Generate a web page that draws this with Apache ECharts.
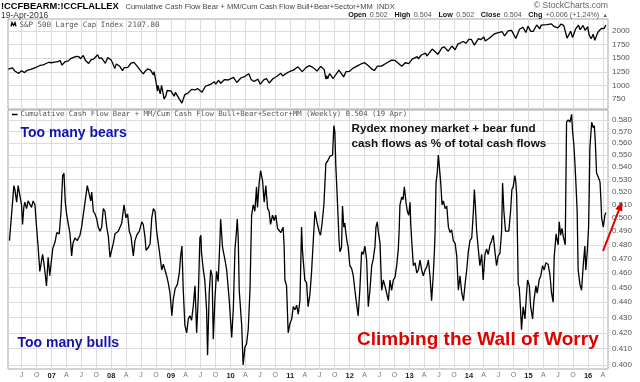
<!DOCTYPE html>
<html><head><meta charset="utf-8">
<script src="https://cdn.jsdelivr.net/npm/echarts@6/dist/echarts.min.js"></script>
<style>html,body{margin:0;padding:0;background:#fff}#c{width:640px;height:382px}</style>
</head><body><div id="c"></div>
<script>
// ---- Rydex cash flow ratio (weekly) ----
const flowDates = [
'2006-04-17','2006-05-14','2006-05-20','2006-05-31','2006-06-09','2006-06-20','2006-06-30','2006-07-06','2006-07-14','2006-07-20','2006-07-31','2006-08-09','2006-08-20','2006-08-30','2006-09-09','2006-09-20','2006-09-30','2006-10-10','2006-10-20','2006-11-06','2006-11-15','2006-11-30','2006-12-10','2006-12-20',
'2007-01-07','2007-01-21','2007-02-01','2007-02-16','2007-02-27','2007-03-09','2007-03-17','2007-03-25','2007-04-03','2007-04-12','2007-04-23','2007-05-03','2007-05-11','2007-05-23','2007-06-06','2007-06-23','2007-07-03','2007-07-13','2007-07-24','2007-08-07','2007-08-19','2007-08-28','2007-09-03','2007-09-13','2007-09-23','2007-10-04','2007-10-13','2007-10-24','2007-11-03','2007-11-13','2007-11-23','2007-12-04','2007-12-14','2007-12-24',
'2008-01-13','2008-01-24','2008-02-13','2008-03-05','2008-03-19','2008-03-31','2008-04-10','2008-04-20','2008-05-01','2008-05-15','2008-05-25','2008-06-05','2008-06-21','2008-07-06','2008-07-15','2008-07-26','2008-08-01','2008-08-15','2008-08-26','2008-09-05','2008-09-15','2008-09-25','2008-10-05','2008-10-15','2008-10-21','2008-11-05','2008-11-15','2008-11-25','2008-12-05','2008-12-15','2008-12-26',
'2009-01-06','2009-01-15','2009-01-26','2009-02-09','2009-02-21','2009-03-01','2009-03-09','2009-03-17','2009-03-27','2009-04-07','2009-04-17','2009-04-27','2009-05-07','2009-05-17','2009-05-28','2009-06-07','2009-06-17','2009-06-27','2009-07-03','2009-07-07','2009-07-17','2009-07-27','2009-08-07','2009-08-13','2009-08-23','2009-09-01','2009-09-10','2009-09-17','2009-09-27','2009-10-07','2009-10-17','2009-10-28','2009-11-01','2009-11-13','2009-11-28','2009-12-08','2009-12-24',
'2010-01-08','2010-01-18','2010-01-28','2010-02-05','2010-02-11','2010-02-17','2010-02-23','2010-03-10','2010-03-19','2010-03-30','2010-04-09','2010-04-19','2010-04-30','2010-05-06','2010-05-10','2010-05-20','2010-05-30','2010-06-09','2010-06-15','2010-06-25','2010-07-04','2010-07-16','2010-07-26','2010-08-05','2010-08-16','2010-08-25','2010-09-03','2010-09-15','2010-09-25','2010-10-05','2010-10-16','2010-10-26','2010-11-05','2010-11-13','2010-11-19','2010-11-25','2010-11-30','2010-12-10','2010-12-20','2010-12-31',
'2011-01-11','2011-01-20','2011-01-31','2011-02-10','2011-02-20','2011-03-02','2011-03-06','2011-03-12','2011-03-18','2011-04-01','2011-04-12','2011-04-21','2011-05-02','2011-05-12','2011-05-22','2011-06-02','2011-06-14','2011-06-27','2011-07-06','2011-07-15','2011-07-27','2011-08-08','2011-08-19','2011-09-02','2011-09-18','2011-09-26','2011-10-02','2011-10-08','2011-10-16','2011-10-22','2011-10-28','2011-11-02','2011-11-12','2011-11-18','2011-11-26','2011-12-02','2011-12-08','2011-12-16','2011-12-22',
'2012-01-02','2012-01-13','2012-01-23','2012-02-02','2012-02-12','2012-02-22','2012-03-03','2012-03-14','2012-03-24','2012-04-03','2012-04-14','2012-04-24','2012-05-04','2012-05-15','2012-05-25','2012-06-04','2012-06-10','2012-06-18','2012-06-24','2012-07-05','2012-07-15','2012-07-25','2012-08-04','2012-08-15','2012-08-25','2012-09-04','2012-09-14','2012-09-24','2012-10-05','2012-10-15','2012-10-25','2012-10-30','2012-11-04','2012-11-15','2012-11-23','2012-12-01','2012-12-11','2012-12-19','2012-12-28',
'2013-01-05','2013-01-09','2013-01-15','2013-01-25','2013-02-05','2013-02-15','2013-02-25','2013-03-07','2013-03-17','2013-03-27','2013-04-07','2013-04-17','2013-04-27','2013-05-07','2013-05-17','2013-05-27','2013-06-03','2013-06-07','2013-06-13','2013-06-21','2013-06-27','2013-07-03','2013-07-12','2013-07-20','2013-07-28','2013-08-08','2013-08-18','2013-08-28','2013-09-07','2013-09-17','2013-09-27','2013-10-08','2013-10-18','2013-10-28','2013-11-07','2013-11-18','2013-11-28','2013-12-08','2013-12-18','2013-12-28',
'2014-01-07','2014-01-18','2014-01-28','2014-02-03','2014-02-09','2014-02-17','2014-02-27','2014-03-09','2014-03-20','2014-03-29','2014-04-09','2014-04-19','2014-04-29','2014-05-10','2014-05-20','2014-05-30','2014-06-09','2014-06-19','2014-06-29','2014-07-10','2014-07-20','2014-07-26','2014-08-03','2014-08-13','2014-08-23','2014-09-02','2014-09-13','2014-09-21','2014-09-29','2014-10-09','2014-10-15','2014-10-20','2014-10-23','2014-10-30','2014-11-05','2014-11-13','2014-11-19','2014-11-29','2014-12-10','2014-12-20','2014-12-26',
'2015-01-06','2015-01-14','2015-01-26','2015-02-03','2015-02-15','2015-02-23','2015-03-07','2015-03-17','2015-03-28','2015-04-07','2015-04-17','2015-05-01','2015-05-12','2015-05-22','2015-06-01','2015-06-07','2015-06-13','2015-06-19','2015-06-26','2015-07-02','2015-07-08','2015-07-17','2015-07-25','2015-08-02','2015-08-08','2015-08-14','2015-08-22','2015-09-01','2015-09-12','2015-09-22','2015-09-28','2015-10-06','2015-10-12','2015-10-18','2015-10-26','2015-11-01','2015-11-12','2015-11-22','2015-12-02','2015-12-12','2015-12-18','2015-12-27',
'2016-01-04','2016-01-08','2016-01-12','2016-01-23','2016-02-02','2016-02-08','2016-02-14','2016-02-22','2016-03-03','2016-03-14','2016-03-20','2016-03-24','2016-04-03','2016-04-13','2016-04-19'
];
const flowValues = [
.483,.525,.522,.512,.525,.526,.510,.495,.508,.512,.507,.513,.514,.508,.513,.510,.493,.478,.461,.473,.466,.451,.471,.458,
.477,.482,.489,.488,.505,.533,.535,.512,.502,.503,.488,.472,.481,.485,.483,.487,.493,.502,.512,.525,.524,.513,.520,.505,.503,.499,.493,.490,.493,.507,.505,.493,.486,.471,
.481,.488,.490,.496,.510,.500,.503,.490,.486,.472,.483,.487,.490,.497,.495,.485,.476,.478,.481,.500,.507,.505,.490,.481,.476,.462,.466,.465,.458,.453,.446,
.431,.442,.449,.452,.460,.472,.479,.448,.425,.420,.429,.431,.428,.437,.451,.420,.443,.485,.487,.474,.463,.455,.435,.406,.446,.462,.458,.416,.442,.461,.454,.484,.499,.478,.469,.462,.441,
.417,.436,.477,.488,.499,.485,.448,.425,.400,.411,.413,.422,.448,.480,.502,.510,.505,.524,.508,.527,.537,.529,.512,.525,.507,.505,.495,.502,.498,.502,.492,.493,.489,.489,.493,.480,.455,.451,.420,.426,
.429,.437,.435,.438,.432,.441,.460,.493,.475,.455,.453,.437,.445,.460,.461,.505,.497,.490,.487,.495,.510,.543,.545,.549,.550,.575,.570,.541,.518,.500,.483,.475,.478,.509,.493,.496,.489,.482,.479,
.465,.463,.458,.448,.439,.431,.448,.475,.473,.479,.469,.437,.448,.465,.470,.479,.493,.497,.490,.481,.448,.455,.451,.452,.441,.455,.448,.455,.457,.465,.477,.490,.510,.516,.514,.524,.512,.505,.502,
.512,.496,.483,.465,.467,.460,.462,.469,.462,.458,.462,.464,.469,.458,.441,.458,.475,.488,.527,.536,.550,.541,.527,.510,.513,.507,.509,.493,.489,.491,.483,.481,.472,.448,.458,.446,.441,.452,.462,.475,
.483,.485,.505,.522,.510,.490,.477,.465,.473,.455,.473,.477,.473,.480,.483,.487,.475,.465,.472,.474,.490,.527,.505,.490,.489,.490,.505,.522,.524,.533,.528,.518,.500,.452,.450,.435,.422,.437,.429,.446,.455,
.451,.437,.429,.441,.451,.446,.455,.458,.465,.462,.467,.466,.459,.446,.440,.471,.479,.488,.483,.480,.497,.487,.492,.486,.483,.480,.578,.580,.578,.585,.570,.558,.544,.528,.505,.462,.452,.448,.465,.479,.462,.475,
.493,.520,.556,.578,.573,.575,.562,.535,.532,.528,.513,.500,.493,.502,.504
];

// ---- S&P 500 ----
const spxDates = [
'2006-04-10','2006-05-05','2006-05-19','2006-06-13','2006-06-30','2006-07-18','2006-08-04','2006-08-25','2006-09-15','2006-09-29','2006-10-20','2006-11-10','2006-11-24','2006-12-15','2006-12-29',
'2007-01-19','2007-02-09','2007-02-22','2007-03-05','2007-03-23','2007-04-13','2007-04-27','2007-05-18','2007-06-01','2007-06-15','2007-06-26','2007-07-13','2007-07-27','2007-08-15','2007-08-31','2007-09-14','2007-09-28','2007-10-09','2007-10-19','2007-11-02','2007-11-26','2007-12-10','2007-12-31',
'2008-01-11','2008-01-22','2008-02-01','2008-02-22','2008-03-10','2008-03-21','2008-04-11','2008-05-02','2008-05-19','2008-06-06','2008-06-27','2008-07-15','2008-07-25','2008-08-11','2008-08-29','2008-09-15','2008-09-19','2008-09-29','2008-10-10','2008-10-13','2008-10-27','2008-11-04','2008-11-20','2008-12-01','2008-12-08','2008-12-31',
'2009-01-06','2009-01-20','2009-01-28','2009-02-09','2009-02-23','2009-03-09','2009-03-26','2009-04-13','2009-05-08','2009-05-29','2009-06-12','2009-07-10','2009-07-31','2009-08-14','2009-08-31','2009-09-22','2009-10-02','2009-10-19','2009-11-02','2009-11-25','2009-12-18',
'2010-01-19','2010-02-08','2010-03-05','2010-03-31','2010-04-23','2010-05-07','2010-05-25','2010-06-18','2010-07-02','2010-07-23','2010-08-09','2010-08-26','2010-09-17','2010-10-15','2010-11-05','2010-11-16','2010-12-15','2010-12-31',
'2011-01-21','2011-02-18','2011-03-16','2011-04-08','2011-04-29','2011-05-20','2011-06-15','2011-07-07','2011-07-29','2011-08-08','2011-08-12','2011-08-19','2011-08-31','2011-09-22','2011-10-03','2011-10-27','2011-11-25','2011-12-09','2011-12-30',
'2012-01-20','2012-02-17','2012-03-16','2012-04-02','2012-04-23','2012-05-18','2012-06-01','2012-06-19','2012-07-13','2012-08-17','2012-09-14','2012-10-05','2012-11-15','2012-12-07','2012-12-28',
'2013-01-18','2013-02-19','2013-02-25','2013-03-15','2013-04-11','2013-04-18','2013-05-21','2013-06-24','2013-07-19','2013-08-02','2013-08-27','2013-09-18','2013-10-08','2013-10-25','2013-11-27','2013-12-13','2013-12-31',
'2014-01-15','2014-02-03','2014-02-28','2014-03-14','2014-04-02','2014-04-11','2014-05-09','2014-06-06','2014-06-20','2014-07-24','2014-08-07','2014-08-29','2014-09-19','2014-10-15','2014-11-07','2014-11-28','2014-12-16','2014-12-29',
'2015-01-15','2015-01-30','2015-02-20','2015-03-11','2015-03-20','2015-04-24','2015-05-21','2015-06-08','2015-06-29','2015-07-20','2015-08-05','2015-08-25','2015-09-16','2015-09-28','2015-10-16','2015-11-03','2015-11-13','2015-12-01','2015-12-14','2015-12-29',
'2016-01-08','2016-01-20','2016-02-01','2016-02-11','2016-03-01','2016-03-22','2016-04-07','2016-04-19'
];
const spxValues = [
1300,1325,1267,1223,1270,1237,1280,1295,1320,1336,1368,1380,1400,1427,1418,
1430,1438,1460,1374,1436,1452,1494,1522,1536,1532,1492,1552,1458,1406,1473,1484,1527,1565,1500,1509,1407,1515,1468,
1401,1310,1395,1353,1273,1330,1333,1413,1426,1360,1278,1214,1257,1305,1283,1193,1255,1106,899,1003,848,1005,752,816,909,903,
935,805,874,870,743,677,832,858,930,919,946,879,987,1004,1021,1071,1025,1097,1042,1110,1102,
1150,1056,1138,1169,1217,1111,1074,1117,1022,1103,1127,1047,1125,1176,1225,1178,1236,1258,
1283,1343,1256,1329,1364,1333,1266,1353,1292,1119,1178,1124,1219,1129,1099,1284,1159,1255,1258,
1315,1361,1404,1419,1366,1295,1278,1357,1357,1418,1465,1460,1353,1418,1402,
1485,1530,1487,1560,1593,1541,1669,1573,1692,1709,1630,1725,1656,1759,1807,1775,1848,
1848,1741,1859,1841,1890,1815,1878,1949,1962,1987,1909,2003,2011,1862,2032,2068,1972,2090,
1992,1995,2110,2040,2108,2117,2131,2079,2058,2128,2099,1868,1996,1882,2033,2109,2023,2103,2012,2078,
1922,1859,1940,1829,1978,2049,2042,2108
];

// ---- ticks ----
const flowTicks = [0.400,0.410,0.420,0.430,0.440,0.450,0.460,0.470,0.480,0.490,0.500,0.510,0.520,0.530,0.540,0.550,0.560,0.570,0.580];
const spxTicks = [750,1000,1250,1500,1750,2000];
const quarterTicks = [
'2006-07-01','2006-10-01','2007-01-01','2007-04-01','2007-07-01','2007-10-01','2008-01-01','2008-04-01','2008-07-01','2008-10-01',
'2009-01-01','2009-04-01','2009-07-01','2009-10-01','2010-01-01','2010-04-01','2010-07-01','2010-10-01','2011-01-01','2011-04-01',
'2011-07-01','2011-10-01','2012-01-01','2012-04-01','2012-07-01','2012-10-01','2013-01-01','2013-04-01','2013-07-01','2013-10-01',
'2014-01-01','2014-04-01','2014-07-01','2014-10-01','2015-01-01','2015-04-01','2015-07-01','2015-10-01','2016-01-01','2016-04-01'
];
const monthLetters = {3:'A', 6:'J', 9:'O'};

const toTs = s => +new Date(s + 'T00:00:00');
const qTs = quarterTicks.map(toTs);
const flowData = flowDates.map((d, i) => [toTs(d), flowValues[i]]);
const spxData = spxDates.map((d, i) => [toTs(d), spxValues[i]]);

const GRID = '#dcdcdc';
const xMin = toTs('2006-04-08'), xMax = toTs('2016-05-02');
function xAxisCfg(idx, showLabel) {
  return {
    type: 'value', gridIndex: idx, min: xMin, max: xMax, scale: true,
    axisLine: {show: false},
    axisTick: {show: false, customValues: qTs},
    splitLine: {show: true, lineStyle: {color: GRID, width: 1}},
    axisLabel: {
      show: showLabel, customValues: qTs, margin: 3, fontSize: 7, color: '#777',
      fontFamily: 'Liberation Sans',
      formatter: function (v) {
        const d = new Date(v); const m = d.getMonth();
        if (m === 0) return '{y|' + String(d.getFullYear()).slice(2) + '}';
        return monthLetters[m] || '';
      },
      rich: {y: {fontWeight: 'bold', color: '#222', fontSize: 7.5, fontFamily: 'Liberation Sans'}}
    }
  };
}

const graphics = [
  {type: 'text', left: 1, top: 1.5, style: {text: '!CCFBEARM:!CCFLALLEX', font: 'bold 9.3px "Liberation Sans"', fill: '#000'}},
  {type: 'text', x: 125.5, y: 6.5, style: {text: 'Cumulative Cash Flow Bear + MM/Cum Cash Flow Bull+Bear+Sector+MM  INDX', font: '7.5px "Liberation Sans"', fill: '#444', verticalAlign: 'middle'}},
  {type: 'text', x: 1, y: 15.3, style: {text: '19-Apr-2016', font: '8.5px "Liberation Sans"', fill: '#333', verticalAlign: 'middle'}},
  {type: 'text', x: 608, y: 6, style: {text: '\u00A9 StockCharts.com', font: '8.6px "Liberation Sans"', fill: '#666', align: 'right', verticalAlign: 'middle'}},
  {type: 'text', x: 608, y: 15, style: {
    text: '{b|Open} {v|0.502}  {b|High} {v|0.504}  {b|Low} {v|0.502}  {b|Close} {v|0.504}  {b|Chg} {v|+0.006 (+1.24%)} {u|\u25B2}',
    align: 'right', verticalAlign: 'middle',
    rich: {
      b: {font: 'bold 7.2px "Liberation Sans"', fill: '#111'},
      v: {font: '7.2px "Liberation Sans"', fill: '#555'},
      u: {font: '5.5px "Liberation Sans"', fill: '#555'}
    }}},
  {type: 'polyline', shape: {points: [[11,26.5],[12,22.5],[13.5,25.5],[15,22.5],[16,26.5]]}, style: {stroke: '#000', lineWidth: 1.2, fill: null}},
  {type: 'text', x: 19.5, y: 24.7, style: {text: 'S&P 500 Large Cap Index 2107.80', font: '7.5px "DejaVu Sans Mono"', fill: '#555', verticalAlign: 'middle'}},
  {type: 'line', shape: {x1: 12, y1: 114.5, x2: 17.5, y2: 114.5}, style: {stroke: '#000', lineWidth: 1.5}},
  {type: 'text', x: 20.5, y: 114.6, style: {text: 'Cumulative Cash Flow Bear + MM/Cum Cash Flow Bull+Bear+Sector+MM (Weekly) 0.504 (19 Apr)', font: '7.3px "DejaVu Sans Mono"', fill: '#555', verticalAlign: 'middle'}},
  {type: 'text', x: 20.5, y: 133.5, style: {text: 'Too many bears', font: 'bold 14px "Liberation Sans"', fill: '#1212b0', verticalAlign: 'middle'}},
  {type: 'text', x: 17.5, y: 343.5, style: {text: 'Too many bulls', font: 'bold 14px "Liberation Sans"', fill: '#1212b0', verticalAlign: 'middle'}},
  {type: 'text', x: 351.5, y: 128.7, style: {text: 'Rydex money market + bear fund', font: 'bold 11.7px "Liberation Sans"', fill: '#111', verticalAlign: 'middle'}},
  {type: 'text', x: 351.5, y: 143.5, style: {text: 'cash flows as % of total cash flows', font: 'bold 11.7px "Liberation Sans"', fill: '#111', verticalAlign: 'middle'}},
  {type: 'text', x: 357, y: 340, style: {text: 'Climbing the Wall of Worry', font: 'bold 19px "Liberation Sans"', fill: '#e00000', verticalAlign: 'middle'}},
  {type: 'line', shape: {x1: 603, y1: 251, x2: 618.9, y2: 210.2}, style: {stroke: '#e00000', lineWidth: 2}},
  {type: 'polygon', shape: {points: [[622, 201.5],[622.3, 211.6],[615.4, 208.9]]}, style: {fill: '#e00000'}}
].map(g => Object.assign({z: 100}, g));

const chart = echarts.init(document.getElementById('c'), null, {renderer: 'canvas'});
chart.setOption({
  animation: false,
  backgroundColor: '#fff',
  grid: [
    {left: 8, right: 32, top: 19, height: 90, show: true, borderColor: '#a8a8a8', borderWidth: 1, backgroundColor: 'transparent'},
    {left: 8, right: 32, top: 110, height: 259, show: true, borderColor: '#a8a8a8', borderWidth: 1, backgroundColor: 'transparent'}
  ],
  xAxis: [xAxisCfg(0, false), xAxisCfg(1, true)],
  yAxis: [
    {type: 'value', gridIndex: 0, position: 'right', min: 570, max: 2220,
     axisLine: {show: false}, axisTick: {show: false, customValues: spxTicks},
     splitLine: {show: true, lineStyle: {color: GRID}},
     axisLabel: {customValues: spxTicks, margin: 4, fontSize: 8, color: '#555', fontFamily: 'Liberation Sans',
                 formatter: v => String(Math.round(v))}},
    {type: 'log', logBase: 10, gridIndex: 1, position: 'right', min: 0.3976, max: 0.5888,
     axisLine: {show: false}, axisTick: {show: false, customValues: flowTicks},
     splitLine: {show: true, lineStyle: {color: GRID}},
     axisLabel: {customValues: flowTicks, margin: 4, fontSize: 8, color: '#555', fontFamily: 'Liberation Sans',
                 formatter: v => Number(v).toFixed(3)}}
  ],
  series: [
    {type: 'line', xAxisIndex: 0, yAxisIndex: 0, data: spxData, showSymbol: false, symbol: 'none',
     lineStyle: {color: '#000', width: 1.3}},
    {type: 'line', xAxisIndex: 1, yAxisIndex: 1, data: flowData, showSymbol: false, symbol: 'none',
     lineStyle: {color: '#000', width: 1.3}}
  ],
  graphic: graphics
});
</script></body></html>
